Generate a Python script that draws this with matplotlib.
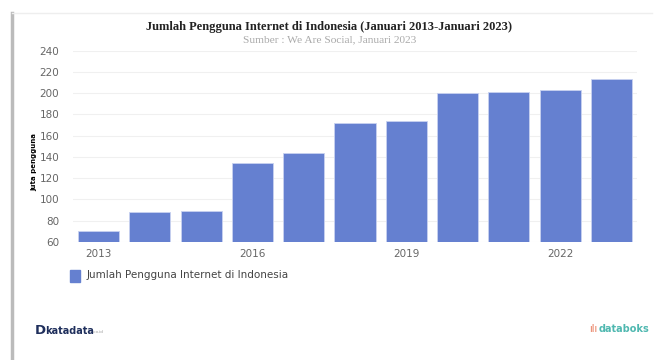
import matplotlib.pyplot as plt
from matplotlib.lines import Line2D
from matplotlib.patches import Rectangle

years = [2013, 2014, 2015, 2016, 2017, 2018, 2019, 2020, 2021, 2022, 2023]
users = [70.0, 88.1, 89.4, 134.8, 143.8, 171.8, 174.0, 200.4, 201.6, 202.9, 213.4]
tick_years = [2013, 2016, 2019, 2022]
y_ticks = [60, 80, 100, 120, 140, 160, 180, 200, 220, 240]

bar_color = '#6580d0'
grey = '#666666'

fig = plt.figure(figsize=(6.59, 3.6), dpi=100)
ax = fig.add_axes([73 / 659, 1 - 242 / 360, 564 / 659, 191.3 / 360])

ax.bar(years, [u - 60 for u in users], bottom=60, width=0.8,
       color=bar_color, edgecolor='#c8d2f0', linewidth=0.6, zorder=2,
       label='Jumlah Pengguna Internet di Indonesia')

ax.set_xlim(years[0] - 0.5, years[-1] + 0.5)
ax.set_ylim(60, 240)
ax.set_yticks(y_ticks)
ax.set_xticks(tick_years)
ax.yaxis.grid(True, color='#f0f0f0', linewidth=0.8, zorder=0)
ax.set_axisbelow(True)
for s in ax.spines.values():
    s.set_visible(False)
ax.tick_params(axis='y', length=0, pad=10, labelsize=7.5, labelcolor=grey)
ax.tick_params(axis='x', length=0, pad=5, labelsize=7.5, labelcolor=grey)
ax.set_ylabel('juta pengguna', fontsize=5, fontweight='bold', labelpad=12)
ax.yaxis.set_label_coords(-36 / 564, 0.42)

fig.text(0.5, 1 - 27 / 360, 'Jumlah Pengguna Internet di Indonesia (Januari 2013-Januari 2023)',
         ha='center', va='center', family='Liberation Serif', fontweight='bold',
         fontsize=9, color='#222222')
fig.text(0.5, 1 - 40 / 360, 'Sumber : We Are Social, Januari 2023',
         ha='center', va='center', family='Liberation Serif', fontsize=8.2,
         color='#aaaaaa')

# legend
fig.add_artist(Rectangle((70 / 659, 1 - 282 / 360), 10 / 659, 12 / 360,
                         transform=fig.transFigure, color=bar_color))
fig.text(87 / 659, 1 - 275 / 360, 'Jumlah Pengguna Internet di Indonesia',
         ha='left', va='center', fontsize=7.5, color='#444444')

# card border
fig.add_artist(Line2D([12 / 659, 12 / 659], [0, 1 - 13 / 360],
                      transform=fig.transFigure, color='#bbbbbb', linewidth=2.5))
fig.add_artist(Line2D([12 / 659, 652 / 659], [1 - 13 / 360, 1 - 13 / 360],
                      transform=fig.transFigure, color='#eeeeee', linewidth=1))

# footer
fig.text(35 / 659, 1 - 331 / 360, 'D', ha='left', va='center', fontsize=9.5,
         fontweight='bold', color='#1f2f5c')
fig.text(45 / 659, 1 - 331 / 360, 'katadata', ha='left', va='center', fontsize=7,
         fontweight='bold', color='#1f2f5c')
fig.text(93 / 659, 1 - 332 / 360, '.co.id', ha='left', va='center', fontsize=3,
         color='#999999')
fig.text(589 / 659, 1 - 329 / 360, 'ılı', ha='left', va='center', fontsize=7,
         color='#e8795a')
fig.text(599 / 659, 1 - 329 / 360, 'databoks', ha='left', va='center', fontsize=7,
         fontweight='bold', color='#4fb8b0')

fig.savefig('out.png', dpi=100)
